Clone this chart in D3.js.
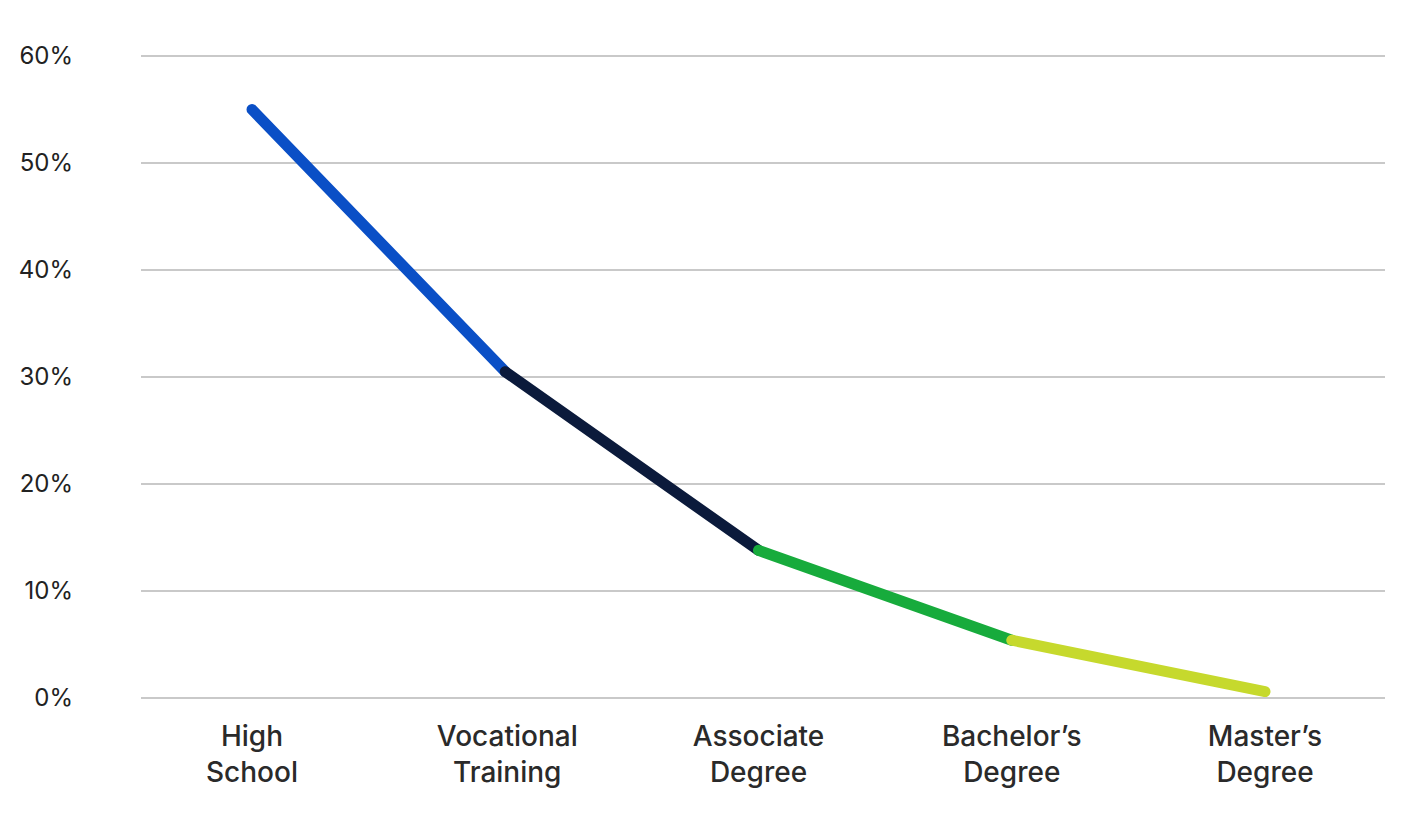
<!DOCTYPE html>
<html><head><meta charset="utf-8">
<script src="https://cdn.jsdelivr.net/npm/d3@7"></script>
<style>body{margin:0;background:#fff;}svg{display:block;}</style>
</head><body>
<svg id="c" width="1422" height="816"></svg>
<script>
const categories = [["High","School"],["Vocational","Training"],["Associate","Degree"],["Bachelor\u2019s","Degree"],["Master\u2019s","Degree"]];
const values = [55, 30.5, 13.8, 5.4, 0.6];
const segmentColors = ["#0a4fc6", "#0b1a3b", "#17ab3c", "#c6d92d"];
const yTicks = [0, 10, 20, 30, 40, 50, 60];

const svg = d3.select("#c");
const x = d3.scalePoint().domain(d3.range(categories.length)).range([252, 1265]);
const y = d3.scaleLinear().domain([0, 60]).range([698, 56]);

// gridlines
svg.append("g").selectAll("line").data(yTicks).join("line")
  .attr("x1", 141).attr("x2", 1385)
  .attr("y1", d => y(d)).attr("y2", d => y(d))
  .attr("stroke", "#c9c9c9").attr("stroke-width", 2);

// y labels
svg.append("g").selectAll("text").data(yTicks).join("text")
  .attr("x", 73).attr("y", d => y(d)).attr("dy", "0.35em")
  .attr("text-anchor", "end")
  .attr("font-family", "Inter, 'Noto Sans', sans-serif")
  .attr("font-size", 24).attr("fill", "#222")
  .text(d => d + "%");

// x labels
const xl = svg.append("g").selectAll("text").data(categories).join("text")
  .attr("text-anchor", "middle")
  .attr("font-family", "Inter, 'Noto Sans', sans-serif")
  .attr("font-size", 28).attr("font-weight", 500).attr("fill", "#2a2a2a");
xl.each(function(d, i) {
  const t = d3.select(this);
  d.forEach((line, j) => {
    t.append("tspan").attr("x", x(i) + (i === 1 ? 2 : 0)).attr("y", 746 + j * 36).text(line);
  });
});

// line segments
const segs = d3.range(values.length - 1).map(i => [[i, values[i]], [i + 1, values[i + 1]]]);
const lineGen = d3.line().x(d => x(d[0])).y(d => y(d[1]));
svg.append("g").selectAll("path").data(segs).join("path")
  .attr("d", lineGen)
  .attr("fill", "none")
  .attr("stroke", (d, i) => segmentColors[i])
  .attr("stroke-width", 11)
  .attr("stroke-linecap", "round");
</script>
</body></html>
